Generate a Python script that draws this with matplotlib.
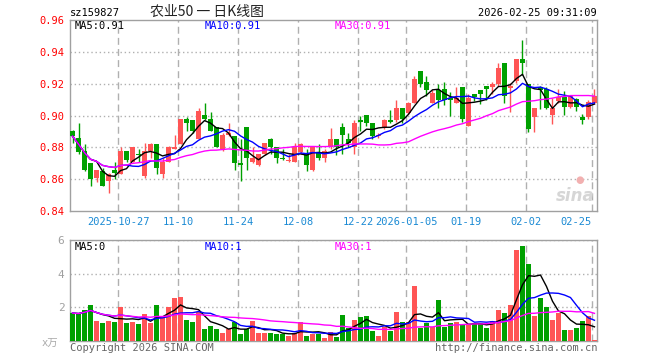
import matplotlib
matplotlib.use("Agg")
import matplotlib.pyplot as plt
import numpy as np
import pandas as pd

plt.rcParams['font.family'] = ['DejaVu Sans Mono', 'Noto Sans CJK SC']

# daily K data, 2025-10-15 .. 2026-02-25
opens = [0.890, 0.886, 0.878, 0.870, 0.861, 0.865, 0.859, 0.866, 0.863, 0.878,
         0.871, 0.876, 0.862, 0.878, 0.882, 0.863, 0.871, 0.879, 0.882, 0.898,
         0.897, 0.885, 0.900, 0.898, 0.893, 0.879, 0.888, 0.887, 0.870, 0.893,
         0.871, 0.869, 0.876, 0.885, 0.880, 0.8735, 0.8712, 0.871, 0.877, 0.876,
         0.866, 0.877, 0.873, 0.880, 0.885, 0.893, 0.885, 0.880, 0.897, 0.900,
         0.895, 0.887, 0.892, 0.897, 0.897, 0.905, 0.9015, 0.9077, 0.9277, 0.921,
         0.9077, 0.9158, 0.9165, 0.9113, 0.9081, 0.9181, 0.8935, 0.9133, 0.9158, 0.9185,
         0.9181, 0.9196, 0.9331, 0.9175, 0.9217, 0.9358, 0.9196, 0.8988, 0.9181, 0.9165,
         0.9002, 0.9092, 0.9119, 0.9054, 0.9106, 0.8988, 0.8988, 0.9077]
highs = [0.891, 0.895, 0.882, 0.870, 0.866, 0.867, 0.864, 0.871, 0.880, 0.878,
         0.880, 0.879, 0.883, 0.883, 0.882, 0.873, 0.881, 0.888, 0.898, 0.899,
         0.897, 0.905, 0.908, 0.902, 0.893, 0.889, 0.895, 0.887, 0.885, 0.893,
         0.880, 0.876, 0.883, 0.886, 0.880, 0.879, 0.876, 0.883, 0.883, 0.879,
         0.880, 0.882, 0.879, 0.892, 0.885, 0.895, 0.889, 0.897, 0.900, 0.900,
         0.895, 0.889, 0.898, 0.9035, 0.910, 0.905, 0.9085, 0.9248, 0.9277, 0.9248,
         0.9158, 0.9196, 0.921, 0.9148, 0.9181, 0.9181, 0.9133, 0.9133, 0.9158, 0.9185,
         0.921, 0.9331, 0.9331, 0.9206, 0.9358, 0.9477, 0.9196, 0.905, 0.9185, 0.9181,
         0.9113, 0.9165, 0.9154, 0.9123, 0.9113, 0.9008, 0.9098, 0.9165]
lows = [0.883, 0.876, 0.865, 0.856, 0.858, 0.856, 0.851, 0.860, 0.863, 0.871,
        0.871, 0.871, 0.861, 0.873, 0.863, 0.861, 0.871, 0.879, 0.882, 0.890,
        0.889, 0.885, 0.897, 0.890, 0.880, 0.878, 0.887, 0.866, 0.859, 0.866,
        0.870, 0.868, 0.875, 0.876, 0.870, 0.872, 0.8706, 0.871, 0.876, 0.865,
        0.865, 0.872, 0.871, 0.879, 0.875, 0.876, 0.880, 0.876, 0.890, 0.8935,
        0.885, 0.886, 0.8915, 0.8956, 0.896, 0.8956, 0.9008, 0.9077, 0.918, 0.9123,
        0.9077, 0.905, 0.9065, 0.900, 0.9077, 0.896, 0.8931, 0.9092, 0.9071, 0.9098,
        0.9133, 0.9185, 0.9077, 0.9019, 0.9206, 0.9252, 0.8894, 0.8894, 0.904, 0.904,
        0.8946, 0.9077, 0.9002, 0.9044, 0.9029, 0.8946, 0.8981, 0.9071]
closes = [0.887, 0.877, 0.866, 0.860, 0.866, 0.856, 0.863, 0.864, 0.878, 0.872,
          0.880, 0.875, 0.878, 0.882, 0.867, 0.871, 0.880, 0.880, 0.898, 0.895,
          0.890, 0.903, 0.898, 0.890, 0.880, 0.888, 0.889, 0.870, 0.869, 0.873,
          0.873, 0.876, 0.883, 0.880, 0.873, 0.8727, 0.8718, 0.880, 0.882, 0.869,
          0.880, 0.873, 0.878, 0.885, 0.880, 0.888, 0.883, 0.895, 0.896, 0.895,
          0.887, 0.888, 0.897, 0.896, 0.905, 0.898, 0.9077, 0.9231, 0.9196, 0.9158,
          0.9144, 0.9096, 0.9096, 0.9098, 0.9113, 0.8977, 0.9113, 0.9117, 0.9133, 0.9165,
          0.920, 0.9296, 0.9123, 0.9185, 0.9358, 0.9331, 0.8915, 0.905, 0.916, 0.905,
          0.905, 0.9119, 0.9054, 0.9123, 0.9056, 0.8973, 0.9085, 0.9123]
# volume in 万
volumes = [1.66, 1.60, 1.86, 2.14, 1.20, 1.06, 1.20, 1.14, 2.04, 1.06,
           1.14, 1.00, 1.60, 1.06, 2.16, 1.34, 2.04, 2.54, 2.64, 1.26,
           1.14, 1.74, 0.70, 0.90, 0.70, 0.50, 0.74, 1.14, 0.44, 0.70,
           1.20, 0.50, 0.50, 0.50, 0.40, 0.44, 0.30, 0.50, 1.14, 0.30,
           0.40, 0.40, 0.20, 0.56, 0.26, 1.56, 0.75, 1.26, 1.40, 1.46,
           0.60, 0.30, 0.86, 0.60, 1.74, 1.10, 1.14, 3.26, 0.80, 1.04,
           0.86, 2.46, 0.86, 1.06, 1.14, 0.94, 0.94, 1.06, 1.06, 0.80,
           1.20, 1.86, 1.64, 2.16, 5.40, 5.64, 4.56, 1.46, 2.54, 2.00,
           1.26, 1.64, 0.66, 0.66, 0.80, 1.20, 1.50, 0.05]

tick_idx = [8, 18, 28, 38, 48, 56, 66, 76, 87]
tick_labels = ["2025-10-27", "11-10", "11-24", "12-08", "12-22",
               "2026-01-05", "01-19", "02-02", "02-25"]

RED = "#ff5555"
GREEN = "#00a000"
GRID = "#b0b0b0"
SPINE = "#a0a0a0"
XBLUE = "#1a8ad4"

o = np.array(opens); h = np.array(highs); l = np.array(lows); c = np.array(closes)
v = np.array(volumes)
x = np.arange(len(c))
up = c >= o
col = np.where(up, RED, GREEN)

cs = pd.Series(c)
ma_p = [cs.rolling(n, min_periods=1).mean() for n in (5, 10, 30)]
vs = pd.Series(v)
ma_v = [vs.rolling(n, min_periods=1).mean() for n in (5, 10, 30)]
ma_colors = ["black", "#0000ff", "#ff00ff"]

fig = plt.figure(figsize=(6.6, 3.6), dpi=100)
ax = fig.add_axes([70/660, 1-211/360, 527/660, 191/360])
axv = fig.add_axes([70/660, 1-341/360, 527/660, 101/360])

# candles
body_lo = np.minimum(o, c)
body_h = np.maximum(np.abs(c - o), 0.0005)
ax.vlines(x, l, h, colors=col, linewidth=1, zorder=2)
ax.bar(x, body_h, bottom=body_lo, width=0.8, color=col, linewidth=0, zorder=3)
for m, cl in zip(ma_p, ma_colors):
    ax.plot(x, m, color=cl, linewidth=1, zorder=4)

axv.bar(x, v, width=0.8, color=col, linewidth=0, zorder=3)
for m, cl in zip(ma_v, ma_colors):
    axv.plot(x, m, color=cl, linewidth=1, zorder=4)

ticks_x = [t - 0.4 for t in tick_idx]
for a in (ax, axv):
    a.set_xlim(-0.42, 87.42)
    a.set_xticks(ticks_x)
    a.grid(axis='x', color=GRID, linestyle=(0, (5, 3)), linewidth=1)
    a.grid(axis='y', color=GRID, linestyle=(0, (1, 2)), linewidth=1)
    a.set_axisbelow(True)
    for s in a.spines.values():
        s.set_color(SPINE)
        s.set_linewidth(1)
    a.tick_params(length=0)

ax.set_ylim(0.84, 0.96)
ax.set_yticks(np.round(np.arange(0.84, 0.961, 0.02), 2))
ax.set_yticklabels(["%.2f" % t for t in np.arange(0.84, 0.961, 0.02)])
ax.tick_params(axis='y', labelcolor="#ff0000", labelsize=7.5, pad=4)
ax.set_xticklabels(tick_labels)
ax.tick_params(axis='x', labelcolor=XBLUE, labelsize=7.5, pad=4)
ax.get_xticklabels()[-1].set_ha('right')
ax.get_xticklabels()[-1].set_x(ticks_x[-1])
ax.get_xticklabels()[-1].set_horizontalalignment('right')

axv.set_ylim(0, 6)
axv.set_yticks([2, 4, 6])
axv.tick_params(axis='y', labelcolor="#a0a0a0", labelsize=8, pad=4)
axv.set_xticklabels([])

# hide gridlines that sit on the frame
for gl in ax.get_ygridlines():
    if gl.get_ydata()[0] in (0.84, 0.96):
        gl.set_visible(False)

# watermark
ax.text(0.995, 0.03, "sina", transform=ax.transAxes, ha='right', va='bottom',
        fontsize=12, fontstyle='italic', fontweight='bold', color="#d6d6d6",
        family='DejaVu Sans', zorder=1)
ax.text(0.968, 0.16, "●", transform=ax.transAxes, ha='center', va='center',
        fontsize=7, color="#f2b0b0", family='DejaVu Sans', zorder=1)

# header texts
fig.text(70/660, 1-13/360, "sz159827", ha='left', va='center', fontsize=7.5)
fig.text(207/660, 1-12/360, "农业50 一 日K线图", ha='center', va='center',
         fontsize=10, family=['Noto Sans CJK SC', 'DejaVu Sans'], color="#222222")
fig.text(597/660, 1-13/360, "2026-02-25 09:31:09", ha='right', va='center', fontsize=7.5)

fig.text(75/660, 1-26/360, "MA5:0.91", ha='left', va='center', fontsize=7.5, color="black")
fig.text(205/660, 1-26/360, "MA10:0.91", ha='left', va='center', fontsize=7.5, color="#0000ff")
fig.text(335/660, 1-26/360, "MA30:0.91", ha='left', va='center', fontsize=7.5, color="#ff00ff")

fig.text(75/660, 1-247/360, "MA5:0", ha='left', va='center', fontsize=7.5, color="black")
fig.text(205/660, 1-247/360, "MA10:1", ha='left', va='center', fontsize=7.5, color="#0000ff")
fig.text(335/660, 1-247/360, "MA30:1", ha='left', va='center', fontsize=7.5, color="#ff00ff")

fig.text(58/660, 1-344/360, "x万", ha='right', va='center', fontsize=7.5, color="#aaaaaa",
         family=['DejaVu Sans Mono', 'Noto Sans CJK SC'])
fig.text(70/660, 1-348/360, "Copyright 2026 SINA.COM", ha='left', va='center',
         fontsize=7.5, color="#666666")
fig.text(597/660, 1-348/360, "http://finance.sina.com.cn", ha='right', va='center',
         fontsize=7.5, color="#666666")

fig.savefig("out.png", dpi=100)
